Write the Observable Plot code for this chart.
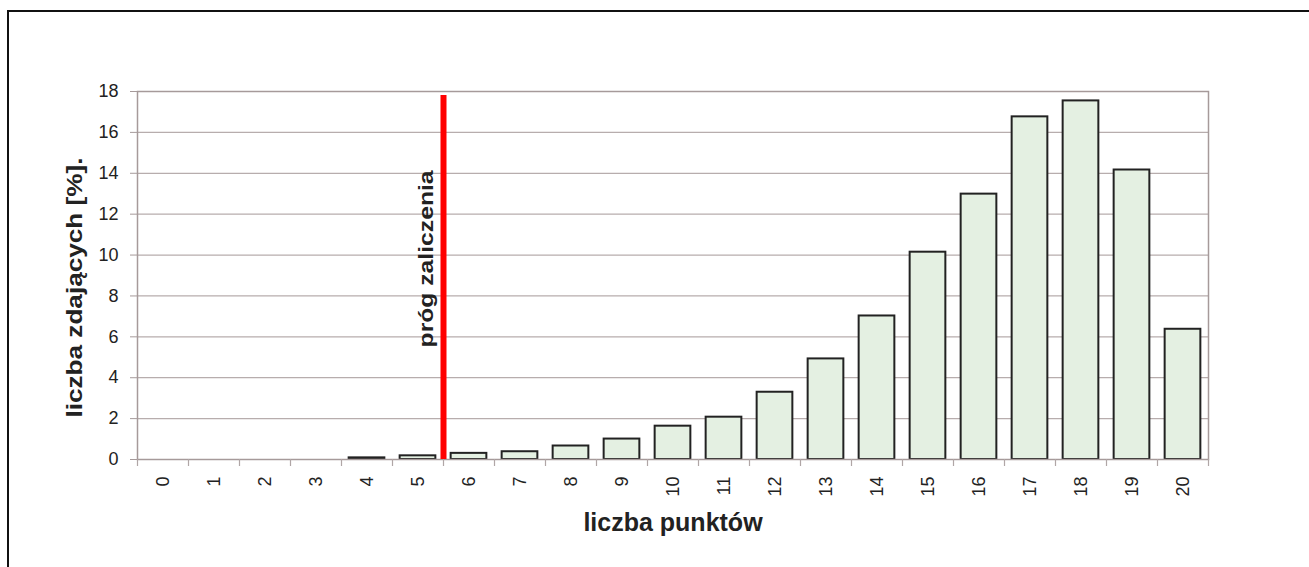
<!DOCTYPE html>
<html>
<head>
<meta charset="utf-8">
<script src="https://cdn.jsdelivr.net/npm/d3@7"></script>
<script src="https://cdn.jsdelivr.net/npm/@observablehq/plot@0.6"></script>
<style>
  html, body { margin: 0; padding: 0; background: #fff; }
  #wrap { position: relative; width: 1309px; height: 567px; overflow: hidden; }
  #border { position: absolute; left: 7px; top: 10px; right: -10px; bottom: -10px;
            border-left: 2px solid #111; border-top: 2px solid #111; pointer-events: none; }
  svg { font-family: "Liberation Sans", Arial, sans-serif; }
</style>
</head>
<body>
<div id="wrap"><div id="border"></div></div>
<script>
// categories: number of points
const points = [0,1,2,3,4,5,6,7,8,9,10,11,12,13,14,15,16,17,18,19,20];
// share of exam takers [%]
const shares = [0,0,0,0,0.08,0.18,0.3,0.38,0.66,1.0,1.63,2.07,3.29,4.92,7.02,10.14,12.98,16.76,17.54,14.16,6.37];
const yTicks = [0,2,4,6,8,10,12,14,16,18];
const thresholdPoint = 5.5;   // between 5 and 6 points
const thresholdTop = 17.8;
const thresholdLabel = "próg zaliczenia";
const xTitle = "liczba punktów";
const yTitle = "liczba zdających [%].";

const data = points.map((p, i) => ({p, v: shares[i]}));
const bounds = points.map(p => p - 0.5).concat([points[points.length - 1] + 0.5]);

const chart = Plot.plot({
  width: 1309,
  height: 567,
  marginLeft: 137,
  marginRight: 101,
  marginTop: 91,
  marginBottom: 108,
  style: {fontFamily: '"Liberation Sans", Arial, sans-serif', fontSize: "18px", color: "#222", background: "transparent"},
  x: {domain: [-0.5, 20.5]},
  y: {domain: [0, 18]},
  marks: [
    Plot.gridY(yTicks, {stroke: "#b7adad", strokeOpacity: 1, strokeWidth: 1.2}),
    Plot.rectY(data, {x1: d => d.p - 0.35, x2: d => d.p + 0.35, y1: 0, y2: "v", fill: "#e4f0e2", stroke: "#222", strokeWidth: 2}),
    Plot.frame({stroke: "#a69a9a", strokeWidth: 1.5}),
    Plot.axisX(bounds, {x: d => d, tickSize: 7, text: null, stroke: "#b0a6a6", strokeWidth: 1.2, tickPadding: 0}),
    Plot.axisX(points, {tickSize: 0, tickPadding: 17, tickRotate: -90, fontSize: 18, fill: "#222", label: null, tickFormat: d => String(d)}),
    Plot.axisY(yTicks, {tickSize: 7, tickPadding: 12, stroke: "#a69a9a", fontSize: 18, fill: "#222", label: null}),
    Plot.ruleX([thresholdPoint], {x: d => d, y1: 0, y2: thresholdTop, stroke: "#ff0000", strokeWidth: 6}),
    Plot.text([thresholdLabel], {x: thresholdPoint, y: 9.81, text: d => d, rotate: -90, dx: -17, fontSize: 21, fontWeight: "bold", fill: "#222", className: "thr-label"}),
    Plot.text([xTitle], {x: 10, y: 0, text: d => d, dy: 63, fontSize: 25, fontWeight: "bold", fill: "#222"}),
    Plot.text([yTitle], {x: -0.5, y: 8.41, text: d => d, rotate: -90, dx: -63, fontSize: 22, fontWeight: "bold", fill: "#222", className: "y-title"})
  ]
});
document.getElementById("wrap").appendChild(chart);
// the reference's vertical labels are stretched along their length
chart.querySelectorAll(".thr-label text").forEach(t => { t.setAttribute("textLength", 177); t.setAttribute("lengthAdjust", "spacingAndGlyphs"); });
chart.querySelectorAll(".y-title text").forEach(t => { t.setAttribute("textLength", 260); t.setAttribute("lengthAdjust", "spacingAndGlyphs"); });
</script>
</body>
</html>
